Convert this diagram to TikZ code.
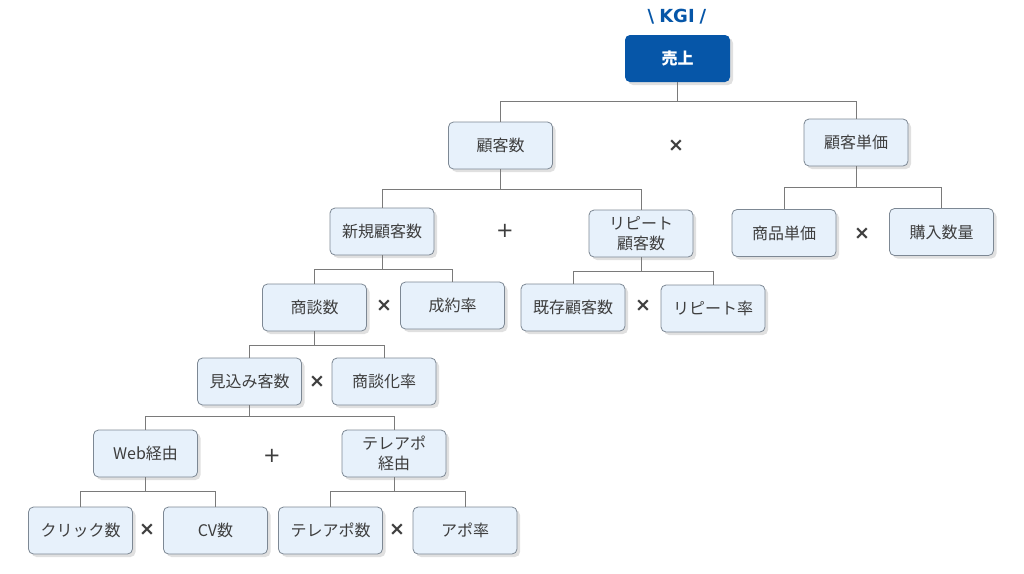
\documentclass[tikz,border=0pt]{standalone}
\usepackage{fontspec}
\setmainfont{Noto Sans CJK JP}
\newfontfamily\symfont{DejaVu Sans}
\usetikzlibrary{shadows}
\definecolor{boxfill}{HTML}{E7F1FB}
\definecolor{boxline}{HTML}{7D8894}
\definecolor{txt}{HTML}{3E3E3E}
\definecolor{kgiblue}{HTML}{0656A8}
\definecolor{wire}{HTML}{7A7A7A}
\tikzset{
  kpi/.style={draw=boxline, line width=0.8pt, fill=boxfill, rounded corners=5pt,
    minimum width=104pt, minimum height=47pt, inner sep=2pt, align=center,
    text=txt, font=\fontsize{16}{20}\selectfont,
    drop shadow={shadow xshift=3pt, shadow yshift=-3pt, fill=black, opacity=0.12}},
  topbox/.style={kpi, draw=none, fill=kgiblue, text=white, font=\fontsize{16}{20}\selectfont\bfseries, minimum width=105pt},
  wirestyle/.style={draw=wire, line width=0.8pt},
  opx/.style={text=txt, font=\symfont\bfseries\fontsize{19}{19}\selectfont},
  opplus/.style={text=txt, font=\symfont\fontsize{21}{21}\selectfont},
}
\begin{document}
\begin{tikzpicture}[x=1pt,y=-1pt]
\useasboundingbox[fill=white] (0,0) rectangle (1024,573);
\node[text=kgiblue, font=\symfont\bfseries\fontsize{18}{18}\selectfont] (kgi) at (677,17) {\textbackslash\hspace{5pt}KGI\hspace{5pt}/};
\node[topbox] (uri) at (677.5,58.5) {売上};
\node[kpi] (kokyaku) at (500.5,145.5) {顧客数};
\node[kpi] (tanka) at (856,142.5) {顧客単価};
\node[kpi] (shinki) at (382,231.5) {新規顧客数};
\node[kpi] (repeat) at (641,233.5) {リピート\\顧客数};
\node[kpi] (shohin) at (784,233) {商品単価};
\node[kpi] (konyu) at (941.5,232) {購入数量};
\node[kpi] (shodan) at (314.5,307.5) {商談数};
\node[kpi] (seiyaku) at (452.5,305.5) {成約率};
\node[kpi] (kison) at (573,307.5) {既存顧客数};
\node[kpi] (repritsu) at (713,308.5) {リピート率};
\node[kpi] (mikomi) at (249.5,381.5) {見込み客数};
\node[kpi] (shodanka) at (384,381.5) {商談化率};
\node[kpi] (web) at (145.5,453.5) {Web経由};
\node[kpi] (tele) at (394,453.5) {テレアポ\\経由};
\node[kpi] (click) at (80.5,530.5) {クリック数};
\node[kpi] (cv) at (215.5,530.5) {CV数};
\node[kpi] (telesu) at (330.5,530.5) {テレアポ数};
\node[kpi] (apo) at (465,530.5) {アポ率};
% operators
\node[opx] (o1) at (676,146) {×};
\node[opplus] (o2) at (505,231) {+};
\node[opx] (o3) at (862,234) {×};
\node[opx] (o4) at (384,306) {×};
\node[opx] (o5) at (643,306) {×};
\node[opx] (o6) at (317,382) {×};
\node[opplus] (o7) at (272,456) {+};
\node[opx] (o8) at (147,530) {×};
\node[opx] (o9) at (397,530) {×};
% connectors
\begin{scope}[wirestyle]
\draw (uri.south) -- ++(0,19) -| (kokyaku.north);
\draw (uri.south) -- ++(0,19) -| (tanka.north);
\draw (kokyaku.south) -- ++(0,20) -| (shinki.north);
\draw (kokyaku.south) -- ++(0,20) -| (repeat.north);
\draw (tanka.south) -- ++(0,21) -| (shohin.north);
\draw (tanka.south) -- ++(0,21) -| (konyu.north);
\draw (shinki.south) -- ++(0,14) -| (shodan.north);
\draw (shinki.south) -- ++(0,14) -| (seiyaku.north);
\draw (repeat.south) -- ++(0,14) -| (kison.north);
\draw (repeat.south) -- ++(0,14) -| (repritsu.north);
\draw (shodan.south) -- ++(0,14) -| (mikomi.north);
\draw (shodan.south) -- ++(0,14) -| (shodanka.north);
\draw (mikomi.south) -- ++(0,11) -| (web.north);
\draw (mikomi.south) -- ++(0,11) -| (tele.north);
\draw (web.south) -- ++(0,14) -| (click.north);
\draw (web.south) -- ++(0,14) -| (cv.north);
\draw (tele.south) -- ++(0,14) -| (telesu.north);
\draw (tele.south) -- ++(0,14) -| (apo.north);
\end{scope}
\end{tikzpicture}
\end{document}
